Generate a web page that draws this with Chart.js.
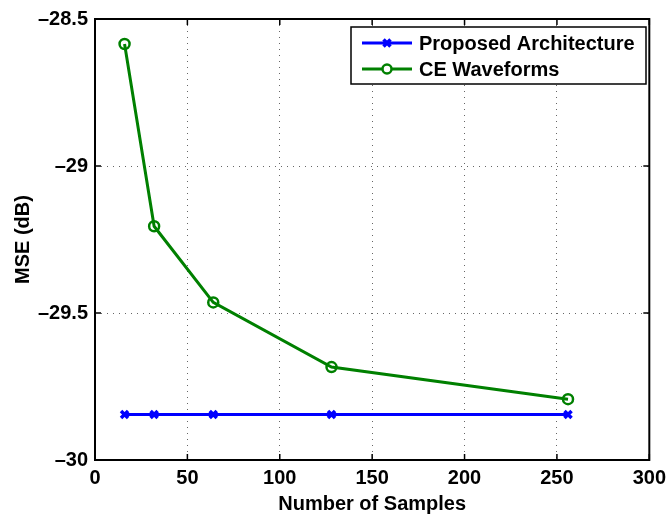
<!DOCTYPE html>
<html><head><meta charset="utf-8">
<script src="https://cdn.jsdelivr.net/npm/chart.js@4/dist/chart.umd.min.js"></script>
<style>html,body{margin:0;padding:0;background:#fff;}#wrap{width:672px;height:516px;}</style>
</head><body><div id="wrap"><canvas id="c" width="672" height="516"></canvas></div>
<script>
const samples = [16, 32, 64, 128, 256];
const proposedMSE = [-29.845, -29.845, -29.845, -29.845, -29.845];
const ceMSE = [-28.585, -29.205, -29.464, -29.684, -29.793];
const seriesNames = ['Proposed Architecture', 'CE Waveforms'];
const xTicks = [0, 50, 100, 150, 200, 250, 300];
const yTicks = [-30, -29.5, -29, -28.5];

const FONT = '"Liberation Sans", Arial, Helvetica, sans-serif';
const fmtY = v => (v < 0 ? '\u2013' : '') + String(Math.abs(v));

const frame = {
  id: 'frame',
  afterDatasetsDraw(chart) {
    const {ctx, chartArea: a, scales: {x, y}} = chart;
    ctx.save();
    ctx.strokeStyle = '#000';
    ctx.lineWidth = 1.5;
    const L = 6;
    ctx.beginPath();
    xTicks.forEach(v => {
      const px = x.getPixelForValue(v);
      ctx.moveTo(px, a.bottom); ctx.lineTo(px, a.bottom - L);
      ctx.moveTo(px, a.top); ctx.lineTo(px, a.top + L);
    });
    yTicks.forEach(v => {
      const py = y.getPixelForValue(v);
      ctx.moveTo(a.left, py); ctx.lineTo(a.left + L, py);
      ctx.moveTo(a.right, py); ctx.lineTo(a.right - L, py);
    });
    ctx.stroke();
    ctx.lineWidth = 2;
    ctx.strokeRect(a.left, a.top, a.right - a.left, a.bottom - a.top);

    // legend
    const bx = 351, by = 27, bw = 295, bh = 57;
    ctx.fillStyle = '#fff';
    ctx.fillRect(bx, by, bw, bh);
    ctx.lineWidth = 1.5;
    ctx.strokeRect(bx, by, bw, bh);
    const rows = [43, 69];
    chart.data.datasets.forEach((ds, i) => {
      const yy = rows[i];
      ctx.strokeStyle = ds.borderColor;
      ctx.lineWidth = 3;
      ctx.beginPath(); ctx.moveTo(362, yy); ctx.lineTo(412, yy); ctx.stroke();
      if (ds.pointStyle === 'crossRot') {
        ctx.lineWidth = 3.5;
        ctx.beginPath();
        const r = 3.5;
        ctx.moveTo(387 - r, yy - r); ctx.lineTo(387 + r, yy + r);
        ctx.moveTo(387 - r, yy + r); ctx.lineTo(387 + r, yy - r);
        ctx.stroke();
      } else {
        ctx.lineWidth = 2.5;
        ctx.fillStyle = '#fff';
        ctx.beginPath(); ctx.arc(387, yy, 4.5, 0, Math.PI * 2); ctx.fill(); ctx.stroke();
      }
      ctx.fillStyle = '#000';
      ctx.font = 'bold 20px ' + FONT;
      ctx.textBaseline = 'middle';
      ctx.textAlign = 'left';
      ctx.fillText(ds.label, 419, yy + 1);
    });
    ctx.restore();
  }
};

new Chart(document.getElementById('c'), {
  type: 'line',
  data: {
    datasets: [
      {
        label: seriesNames[0],
        data: samples.map((s, i) => ({x: s, y: proposedMSE[i]})),
        borderColor: '#0000ff', backgroundColor: '#0000ff',
        borderWidth: 3, pointStyle: 'crossRot', pointRadius: 5,
        pointBorderWidth: 3.5, pointBorderColor: '#0000ff', tension: 0
      },
      {
        label: seriesNames[1],
        data: samples.map((s, i) => ({x: s, y: ceMSE[i]})),
        borderColor: '#008000', backgroundColor: 'rgba(0,0,0,0)',
        borderWidth: 3, pointStyle: 'circle', pointRadius: 5,
        pointBorderWidth: 2.5, pointBorderColor: '#008000',
        pointBackgroundColor: 'rgba(255,255,255,0)', tension: 0
      }
    ]
  },
  options: {
    responsive: false, animation: false, devicePixelRatio: 1,
    layout: {padding: {left: 0, right: 17, top: 18, bottom: 0}},
    plugins: {legend: {display: false}, tooltip: {enabled: false}},
    scales: {
      x: {
        type: 'linear', min: 0, max: 300,
        afterBuildTicks: s => { s.ticks = xTicks.map(v => ({value: v})); },
        afterFit: s => { s.height = 56; },
        grid: {color: '#666', lineWidth: 1, drawTicks: false, drawOnChartArea: true},
        border: {display: false, dash: [1, 5]},
        ticks: {padding: 6, color: '#000', font: {family: FONT, size: 20, weight: 'bold'}, maxRotation: 0},
        title: {display: true, text: 'Number of Samples', color: '#000', padding: {top: 0, bottom: 0},
                font: {family: FONT, size: 20, weight: 'bold'}}
      },
      y: {
        type: 'linear', min: -30, max: -28.5,
        afterBuildTicks: s => { s.ticks = yTicks.map(v => ({value: v})); },
        afterFit: s => { s.width = 95; },
        grid: {color: '#666', lineWidth: 1, drawTicks: false},
        border: {display: false, dash: [1, 5]},
        ticks: {padding: 7, color: '#000', font: {family: FONT, size: 20, weight: 'bold'}, callback: v => fmtY(v)},
        title: {display: true, text: 'MSE (dB)', color: '#000', padding: {top: 11, bottom: 0},
                font: {family: FONT, size: 20, weight: 'bold'}}
      }
    }
  },
  plugins: [frame]
});
</script></body></html>
